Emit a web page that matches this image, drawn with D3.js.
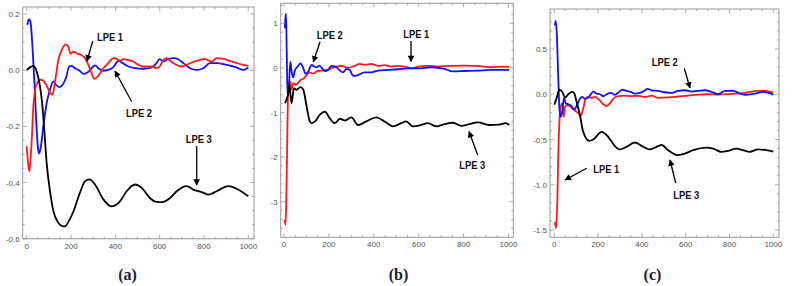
<!DOCTYPE html>
<html>
  <head>
    <meta charset="utf-8">
    <title>LPE panels</title>
    <script src="https://cdn.jsdelivr.net/npm/d3@7"></script>
    <style>
      body { margin: 0; background: #fff; }
    </style>
  </head>
  <body>
    <svg width="793" height="286" id="mainsvg"></svg>
    <script>
        // x ticks shared by all three panels
        const xTicks = [0, 200, 400, 600, 800, 1000];

        // panel (a)
        const aTicksY = [-0.6, -0.4, -0.2, 0.0, 0.2];
        const aLpe1 = [[0,-0.271],[6,-0.33],[12,-0.36],[18,-0.31],[23,-0.247],[30,-0.129],[38,-0.07],[48,-0.044],[63,-0.034],[78,-0.04],[93,-0.06],[108,-0.084],[116,-0.088],[128,-0.04],[143,0.037],[158,0.072],[176,0.092],[188,0.084],[198,0.058],[210,0.066],[226,0.06],[245,0.054],[263,0.043],[278,0.019],[293,-0.011],[305,-0.031],[323,-0.02],[346,0.007],[368,0.025],[391,0.043],[406,0.04],[421,0.034],[436,0.039],[459,0.036],[481,0.031],[504,0.019],[526,0.013],[564,0.013],[586,0.007],[602,0.015],[617,0.037],[632,0.043],[647,0.033],[669,0.022],[699,0.013],[729,0.022],[767,0.033],[805,0.039],[835,0.03],[857,0.043],[887,0.04],[925,0.031],[962,0.022],[1000,0.015]];
        const aLpe2 = [[3,0.161],[8,0.178],[12,0.181],[18,0.167],[26,0.084],[35,-0.046],[42,-0.165],[50,-0.271],[56,-0.297],[63,-0.277],[75,-0.2],[90,-0.117],[105,-0.07],[120,-0.04],[132,-0.052],[147,-0.06],[162,-0.052],[177,-0.028],[192,0.013],[203,0.015],[218,0.007],[237,-0.001],[256,-0.013],[274,-0.008],[293,0.007],[308,0.017],[323,0.007],[346,-0.002],[368,0.001],[391,0.011],[414,0.033],[433,0.025],[459,0.013],[489,0.007],[526,0.005],[564,0.01],[586,0.025],[599,0.039],[617,0.031],[639,0.039],[662,0.043],[684,0.039],[707,0.025],[737,0.007],[767,0.001],[797,0.007],[827,0.025],[857,0.025],[902,0.019],[947,0.01],[977,0.001],[1000,0.009]];
        const aLpe3 = [[0,0],[15,0.01],[30,0.015],[45,-0.005],[60,-0.058],[70,-0.12],[80,-0.22],[90,-0.33],[105,-0.43],[120,-0.5],[140,-0.54],[165,-0.556],[173,-0.556],[188,-0.54],[210,-0.505],[240,-0.437],[263,-0.396],[283,-0.389],[308,-0.407],[346,-0.46],[383,-0.485],[421,-0.467],[451,-0.431],[489,-0.407],[519,-0.419],[556,-0.455],[586,-0.469],[609,-0.47],[647,-0.455],[677,-0.431],[722,-0.413],[752,-0.425],[790,-0.434],[820,-0.443],[857,-0.431],[910,-0.413],[947,-0.422],[1000,-0.449]];

        // panel (b)
        const bTicksY = [-3, -2, -1, 0, 1];
        const bLpe1 = [[3,-3.4],[7,-3.52],[10,-3.0],[14,-1.8],[18,-0.6],[23,-0.35],[27,-0.31],[34,-0.49],[41,-0.34],[52,-0.38],[64,-0.33],[75,-0.27],[90,-0.23],[100,-0.16],[115,-0.1],[130,-0.13],[145,-0.08],[167,-0.06],[189,-0.045],[211,-0.01],[234,0.03],[256,0.045],[285,0.0],[315,0.045],[337,0.09],[359,0.07],[389,0.09],[419,0.045],[448,0.06],[478,0.03],[507,0.045],[537,0.03],[567,-0.01],[600,0.03],[640,0.045],[685,0.03],[740,0.045],[800,0.05],[860,0.045],[920,0.015],[980,0.03],[1003,0.015]];
        const bLpe2 = [[4,0.89],[7,1.15],[9,1.21],[12,0.4],[16,-0.64],[22,-0.42],[28,0.14],[34,-0.08],[41,-0.21],[49,-0.05],[61,0.03],[74,0.1],[86,-0.01],[96,-0.13],[108,-0.08],[123,0.07],[135,0.03],[145,0.01],[157,0.05],[170,-0.01],[182,-0.07],[196,-0.045],[211,0.045],[229,0.03],[249,-0.06],[263,-0.1],[278,-0.02],[293,-0.045],[308,-0.18],[330,-0.16],[359,-0.1],[389,-0.1],[419,-0.06],[463,-0.045],[507,-0.03],[552,-0.01],[596,-0.01],[655,0.015],[715,-0.02],[751,-0.08],[803,-0.07],[862,-0.06],[922,-0.045],[981,-0.045],[1003,-0.045]];
        const bLpe3 = [[4,-0.79],[12,-0.7],[19,-0.57],[24,-0.38],[29,-0.6],[34,-0.79],[44,-0.46],[56,-0.49],[74,-0.43],[86,-0.49],[101,-0.87],[115,-1.2],[123,-1.24],[138,-1.2],[160,-1.05],[182,-0.98],[204,-1.13],[226,-1.24],[249,-1.14],[271,-1.18],[300,-1.11],[330,-1.28],[367,-1.2],[411,-1.11],[448,-1.2],[485,-1.31],[522,-1.24],[544,-1.2],[574,-1.31],[611,-1.28],[641,-1.24],[678,-1.31],[715,-1.26],[752,-1.23],[789,-1.3],[826,-1.26],[863,-1.22],[914,-1.28],[959,-1.27],[988,-1.24],[1003,-1.28]];

        // panel (c)
        const cTicksY = [-1.5, -1.0, -0.5, 0.0, 0.5];
        const cLpe1 = [[3,-1.41],[8,-1.48],[14,-1.17],[18,-0.69],[23,-0.32],[29,-0.14],[37,-0.1],[43,-0.25],[49,-0.14],[59,-0.12],[75,-0.14],[94,-0.18],[110,-0.21],[120,-0.24],[132,-0.16],[143,-0.05],[155,-0.03],[170,-0.04],[186,-0.03],[204,-0.06],[224,-0.11],[239,-0.13],[254,-0.1],[269,-0.05],[292,-0.02],[323,-0.015],[353,-0.02],[384,-0.018],[414,-0.03],[444,-0.015],[475,-0.04],[521,-0.035],[566,-0.025],[612,-0.015],[658,-0.004],[703,0],[749,-0.004],[810,0.004],[871,0.015],[932,0.037],[962,0.037],[1000,0.018]];
        const cLpe2 = [[3,0.76],[6,0.81],[11,0.69],[18,0.19],[24,-0.18],[29,-0.25],[37,-0.18],[44,-0.04],[52,-0.1],[64,-0.11],[79,-0.13],[90,-0.17],[102,-0.13],[117,-0.05],[128,-0.03],[140,-0.05],[155,-0.037],[167,0],[178,0.03],[193,0.007],[209,0],[224,-0.022],[239,0],[259,0.015],[277,-0.007],[295,0.026],[311,0.05],[330,0.037],[350,0.026],[368,0.007],[391,0.015],[411,0.037],[426,0.06],[444,0.044],[475,0.037],[505,0.022],[536,0.015],[566,0.037],[597,0.044],[627,0.03],[658,0.037],[688,0.044],[718,0.026],[749,0],[779,0.037],[817,0.037],[848,0.007],[871,-0.007],[916,0.007],[954,0.026],[1000,-0.004]];
        const cLpe3 = [[0,-0.114],[11,-0.04],[23,0.052],[37,0.026],[49,-0.037],[64,0],[82,0.026],[91,0.01],[102,-0.085],[117,-0.23],[132,-0.416],[160,-0.515],[178,-0.5],[216,-0.416],[246,-0.47],[277,-0.574],[300,-0.61],[330,-0.58],[368,-0.533],[406,-0.58],[436,-0.61],[474,-0.574],[489,-0.56],[520,-0.618],[565,-0.673],[596,-0.655],[634,-0.618],[695,-0.59],[725,-0.6],[763,-0.637],[793,-0.625],[832,-0.6],[862,-0.618],[892,-0.637],[930,-0.61],[968,-0.618],[1000,-0.635]];

        const svg = d3.select('#mainsvg');
        const frameColor = '#999';
        const tickColor = '#555';

        const panels = [
          { name: '(a)', box: [22.7, 254, 7, 238.8], xr: [26.7, 248.3], yd: [-0.6, 0.2], yr: [238.7, 14],
            yTicks: aTicksY, minorY: 0.05, fmt: d3.format('.1f'), series: [aLpe2, aLpe1, aLpe3], labelX: 127.5,
            notes: [
              {text: 'LPE 1', x: 97, y: 41, from: [92.7, 41], to: [87, 61]},
              {text: 'LPE 2', x: 126, y: 117, from: [131.7, 101.7], to: [115, 71]},
              {text: 'LPE 3', x: 185.7, y: 143, from: [196.7, 146], to: [196.7, 185]}
            ] },
          { name: '(b)', box: [280.7, 513.3, 3.3, 237.3], xr: [284, 508.5], yd: [-3, 1], yr: [201.7, 23.3],
            yTicks: bTicksY, minorY: 0.2, fmt: d3.format('d'), series: [bLpe1, bLpe2, bLpe3], labelX: 398.5,
            notes: [
              {text: 'LPE 2', x: 316.7, y: 39, from: [320, 42], to: [313.3, 62]},
              {text: 'LPE 1', x: 403.3, y: 37.5, from: [411, 41], to: [411, 61.5]},
              {text: 'LPE 3', x: 459.3, y: 169, from: [477.7, 155], to: [469, 131.5]}
            ] },
          { name: '(c)', box: [550, 779, 9, 237.3], xr: [554.3, 773.3], yd: [-1.5, 0.5], yr: [230, 49],
            yTicks: cTicksY, minorY: 0.1, fmt: d3.format('.1f'), series: [cLpe1, cLpe2, cLpe3], labelX: 652.5,
            notes: [
              {text: 'LPE 2', x: 651.7, y: 65.5, from: [684.3, 68.5], to: [690, 88]},
              {text: 'LPE 1', x: 593.3, y: 172.5, from: [586.7, 168.3], to: [565, 180]},
              {text: 'LPE 3', x: 673.3, y: 199, from: [675.7, 183], to: [670, 160]}
            ] }
        ];
        // per panel the colours follow the series order above
        const seriesColors = {
          '(a)': ['#1010ff', '#ff1a1a', '#000'],
          '(b)': ['#ff1a1a', '#1010ff', '#000'],
          '(c)': ['#ff1a1a', '#1010ff', '#000']
        };

        svg.append('defs').append('marker')
          .attr('id', 'arrow').attr('viewBox', '0 0 10 10')
          .attr('refX', 9).attr('refY', 5)
          .attr('markerWidth', 5.5).attr('markerHeight', 5)
          .attr('markerUnits', 'strokeWidth')
          .attr('orient', 'auto')
          .append('path').attr('d', 'M0,0 L10,5 L0,10 z').attr('fill', '#000');

        panels.forEach(p => {
          const [x0, x1, y0, y1] = p.box;
          const x = d3.scaleLinear().domain([0, 1000]).range(p.xr);
          const y = d3.scaleLinear().domain(p.yd).range(p.yr);
          const g = svg.append('g');

          // lines
          const line = d3.line().x(d => x(d[0])).y(d => y(d[1])).curve(d3.curveMonotoneX);
          p.series.forEach((s, i) => {
            g.append('path').datum(s)
              .attr('d', line)
              .attr('fill', 'none')
              .attr('stroke', seriesColors[p.name][i])
              .attr('stroke-width', 1.8)
              .attr('stroke-linejoin', 'round');
          });

          // frame
          g.append('rect').attr('x', x0).attr('y', y0)
            .attr('width', x1 - x0).attr('height', y1 - y0)
            .attr('fill', 'none').attr('stroke', frameColor).attr('stroke-width', 1);

          // ticks, inward on all four sides
          const xMinor = d3.range(0, 1001, 50).filter(v => v % 200 !== 0);
          const yLo = y.invert(y1), yHi = y.invert(y0);
          const yMinor = d3.range(Math.ceil(yLo / p.minorY) * p.minorY, yHi, p.minorY)
            .filter(v => !p.yTicks.some(t => Math.abs(t - v) < 1e-6));
          const tk = g.append('g').attr('stroke', frameColor).attr('stroke-width', 0.8);
          xTicks.forEach(v => {
            tk.append('line').attr('x1', x(v)).attr('x2', x(v)).attr('y1', y1).attr('y2', y1 - 4);
            tk.append('line').attr('x1', x(v)).attr('x2', x(v)).attr('y1', y0).attr('y2', y0 + 4);
          });
          xMinor.forEach(v => {
            tk.append('line').attr('x1', x(v)).attr('x2', x(v)).attr('y1', y1).attr('y2', y1 - 2);
            tk.append('line').attr('x1', x(v)).attr('x2', x(v)).attr('y1', y0).attr('y2', y0 + 2);
          });
          p.yTicks.forEach(v => {
            tk.append('line').attr('x1', x0).attr('x2', x0 + 4).attr('y1', y(v)).attr('y2', y(v));
            tk.append('line').attr('x1', x1).attr('x2', x1 - 4).attr('y1', y(v)).attr('y2', y(v));
          });
          yMinor.forEach(v => {
            tk.append('line').attr('x1', x0).attr('x2', x0 + 2).attr('y1', y(v)).attr('y2', y(v));
            tk.append('line').attr('x1', x1).attr('x2', x1 - 2).attr('y1', y(v)).attr('y2', y(v));
          });

          // tick labels
          g.selectAll('text.xl').data(xTicks).join('text')
            .attr('x', d => x(d)).attr('y', y1 + 10)
            .attr('text-anchor', 'middle')
            .attr('font-family', 'Liberation Sans, Arial, sans-serif')
            .attr('font-size', 8).attr('fill', tickColor)
            .text(d => d);
          g.selectAll('text.yl').data(p.yTicks).join('text')
            .attr('x', x0 - 3).attr('y', d => y(d) + 3)
            .attr('text-anchor', 'end')
            .attr('font-family', 'Liberation Sans, Arial, sans-serif')
            .attr('font-size', 8).attr('fill', tickColor)
            .text(d => p.fmt(d).replace('\u2212', '-'));

          // annotations
          p.notes.forEach(n => {
            g.append('line')
              .attr('x1', n.from[0]).attr('y1', n.from[1])
              .attr('x2', n.to[0]).attr('y2', n.to[1])
              .attr('stroke', '#000').attr('stroke-width', 1.3)
              .attr('marker-end', 'url(#arrow)');
            g.append('text').attr('x', n.x).attr('y', n.y)
              .attr('font-family', 'Liberation Sans, Arial, sans-serif')
              .attr('font-weight', 'bold').attr('font-size', 11)
              .attr('textLength', 26).attr('lengthAdjust', 'spacingAndGlyphs')
              .attr('fill', '#111')
              .text(n.text);
          });

          // panel caption
          g.append('text').attr('x', p.labelX).attr('y', 280)
            .attr('text-anchor', 'middle')
            .attr('font-family', 'Liberation Serif, Times New Roman, serif')
            .attr('font-weight', 'bold').attr('font-size', 16)
            .attr('fill', '#1b2140')
            .text(p.name);
        });
    </script>
  </body>
</html>
